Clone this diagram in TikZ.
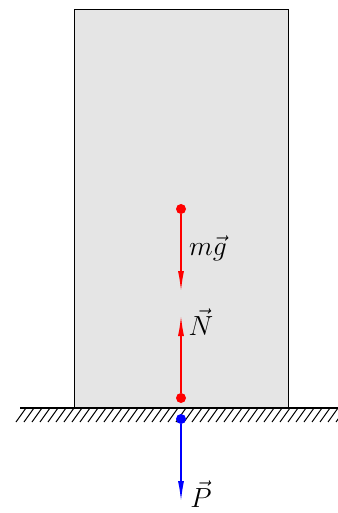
\documentclass[tikz,border=0pt]{standalone}
\usetikzlibrary{arrows.meta}
\begin{document}
\begin{tikzpicture}[x=0.75pt,y=-0.75pt,
  dotr/.style={circle,fill=red,inner sep=0pt,minimum size=7.5pt},
  dotb/.style={circle,fill=blue,inner sep=0pt,minimum size=7.5pt},
  force/.style={line width=0.9pt,-{Latex[length=15pt,width=4.5pt]}},
  lbl/.style={font=\fontsize{20}{24}\selectfont,inner sep=0pt}]
\useasboundingbox (0,0) rectangle (338,513);
\definecolor{blockgray}{HTML}{E5E5E5}
% block
\node[draw=black,line width=0.8pt,fill=blockgray,minimum width=214*0.75pt,minimum height=399*0.75pt,inner sep=0pt,anchor=north west] (block) at (74,9) {};
% ground
\coordinate (gl) at (20,408);
\coordinate (gr) at (338,408);
\draw[line width=1pt] (gl) -- (gr);
\begin{scope}
\clip (0,408) rectangle (338,424);
\foreach \x in {26,34,...,346} {
  \draw[line width=0.75pt] (\x,408) -- (\x-10,422);
}
\end{scope}
% points
\node[dotr] (g) at (181,209) {};
\node[dotr] (n) at (181,398) {};
\node[dotb] (p) at (181,419) {};
\coordinate (gt) at (181,291);
\coordinate (nt) at (181,316);
\coordinate (pt) at (181,501);
\draw[force,red] (g) -- (gt);
\draw[force,red] (n) -- (nt);
\draw[force,blue] (p) -- (pt);
% labels
\node[lbl] (lg) at (208,248) {$m\vec{g}$};
\node[lbl] (ln) at (201,322) {$\vec{N}$};
\node[lbl] (lp) at (201,494) {$\vec{P}$};
\end{tikzpicture}
\end{document}
